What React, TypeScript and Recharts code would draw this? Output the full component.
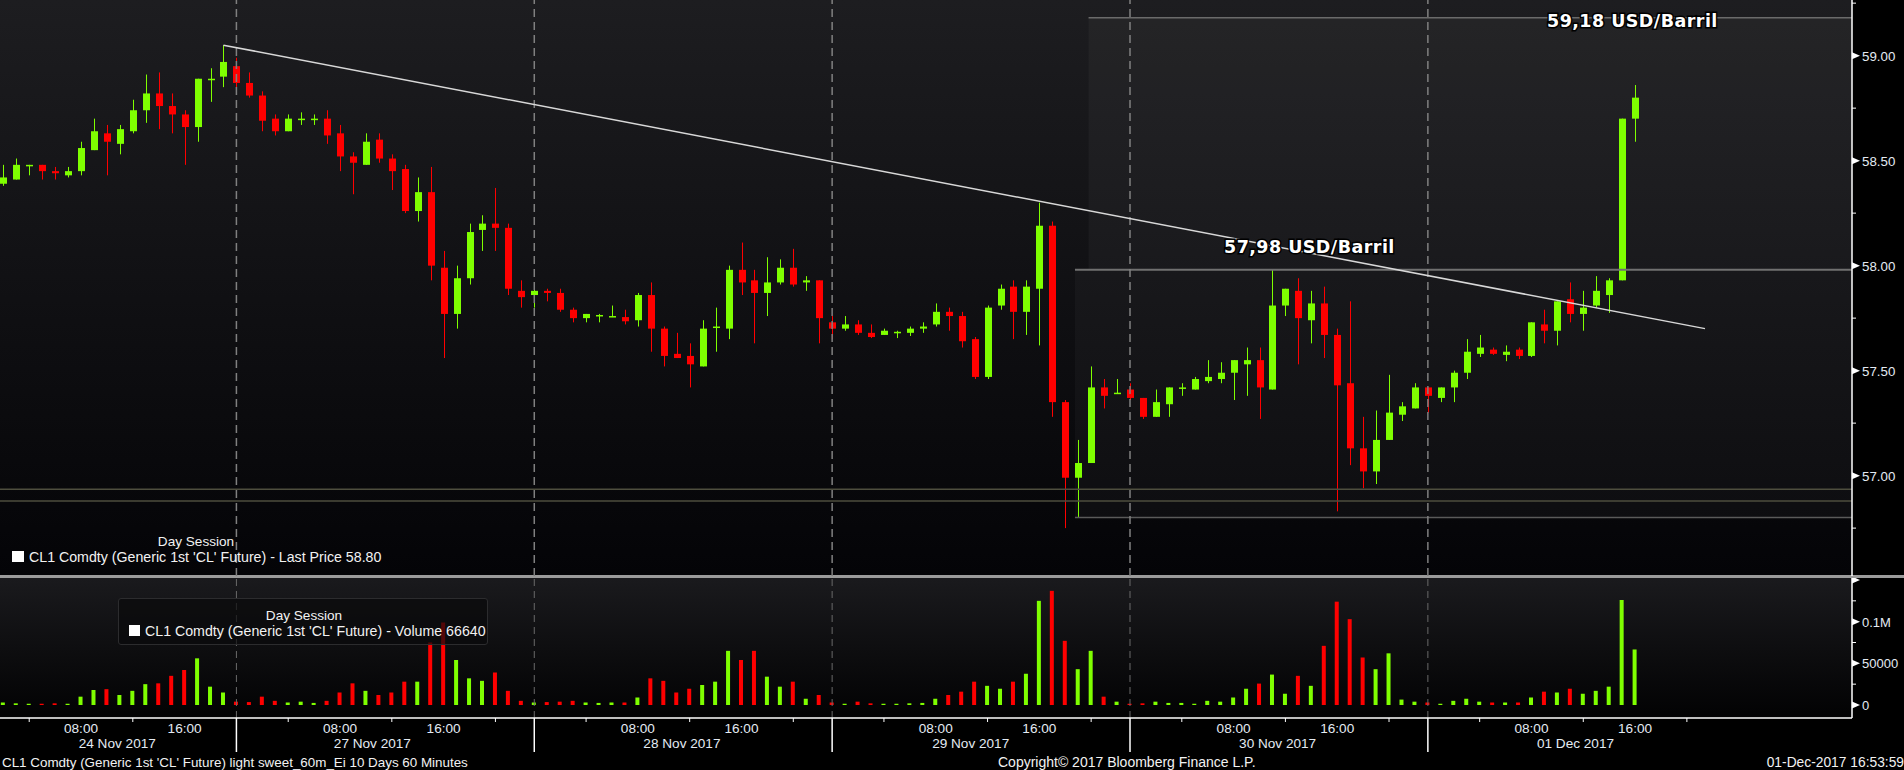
import React from 'react';
import { ComposedChart, Bar, XAxis, YAxis, ReferenceLine, ReferenceArea } from 'recharts';

// CL1 hourly candles, 24 Nov - 01 Dec 2017 (bar index = hour slot)
const opens = [
  58.39, 58.41, 58.48, 58.48, 58.45, 58.43, 58.45, 58.55, 58.63, 58.58,
  58.64, 58.74, 58.82, 58.76, 58.72, 58.66, 58.89, 58.9, 58.95, 58.87,
  58.81, 58.7, 58.64, 58.7, 58.7, 58.7, 58.63, 58.52, 58.48, 58.6,
  58.51, 58.46, 58.26, 58.35, 57.99, 57.77, 57.94, 58.17, 58.2, 58.18,
  57.88, 57.86, 57.88, 57.87, 57.79, 57.75, 57.76, 57.76, 57.755, 57.74,
  57.86, 57.7, 57.58, 57.57, 57.52, 57.71, 57.7, 57.98, 57.93, 57.87,
  57.92, 57.99, 57.92, 57.93, 57.73, 57.7, 57.72, 57.68, 57.67, 57.68,
  57.68, 57.7, 57.72, 57.78, 57.76, 57.65, 57.47, 57.81, 57.9, 57.78,
  57.89, 58.19, 57.35, 56.99, 57.06, 57.42, 57.39, 57.41, 57.37, 57.28,
  57.34, 57.42, 57.41, 57.45, 57.46, 57.49, 57.53, 57.55, 57.41, 57.81,
  57.88, 57.74, 57.82, 57.67, 57.44, 57.13, 57.02, 57.17, 57.29, 57.32,
  57.42, 57.37, 57.42, 57.49, 57.58, 57.6, 57.575, 57.6, 57.57, 57.72,
  57.69, 57.84, 57.77, 57.81, 57.86, 57.93, 58.7,
];
const highs = [
  58.48, 58.51, 58.48, 58.48, 58.47, 58.47, 58.59, 58.7, 58.67, 58.67,
  58.79, 58.91, 58.92, 58.82, 58.74, 58.89, 58.94, 59.05, 58.99, 58.92,
  58.83, 58.72, 58.72, 58.73, 58.72, 58.74, 58.67, 58.54, 58.63, 58.63,
  58.53, 58.48, 58.42, 58.47, 58.07, 58.0, 58.2, 58.24, 58.37, 58.2,
  57.93, 57.9, 57.89, 57.89, 57.8, 57.77, 57.77, 57.81, 57.79, 57.87,
  57.92, 57.71, 57.68, 57.63, 57.74, 57.8, 58.0, 58.11, 57.98, 58.04,
  58.03, 58.08, 57.95, 57.93, 57.76, 57.76, 57.74, 57.72, 57.7, 57.69,
  57.71, 57.73, 57.82, 57.8, 57.78, 57.66, 57.81, 57.91, 57.93, 57.93,
  58.3, 58.21, 57.36, 57.17, 57.52, 57.46, 57.46, 57.44, 57.37, 57.41,
  57.42, 57.44, 57.47, 57.55, 57.54, 57.55, 57.61, 57.61, 57.98, 57.89,
  57.94, 57.88, 57.9, 57.7, 57.83, 57.28, 57.31, 57.48, 57.35, 57.44,
  57.42, 57.42, 57.5, 57.65, 57.67, 57.61, 57.62, 57.61, 57.73, 57.79,
  57.83, 57.92, 57.88, 57.95, 57.94, 58.7, 58.86,
];
const lows = [
  58.38, 58.41, 58.43, 58.41, 58.41, 58.42, 58.43, 58.55, 58.43, 58.53,
  58.63, 58.68, 58.65, 58.63, 58.48, 58.59, 58.78, 58.85, 58.84, 58.8,
  58.64, 58.62, 58.64, 58.67, 58.67, 58.58, 58.45, 58.34, 58.48, 58.49,
  58.36, 58.25, 58.21, 57.93, 57.56, 57.7, 57.91, 58.07, 58.07, 57.86,
  57.8, 57.8, 57.83, 57.78, 57.73, 57.73, 57.73, 57.755, 57.72, 57.71,
  57.59, 57.52, 57.56, 57.42, 57.52, 57.59, 57.65, 57.86, 57.63, 57.76,
  57.91, 57.9, 57.88, 57.63, 57.65, 57.69, 57.67, 57.655, 57.67, 57.655,
  57.665, 57.68, 57.71, 57.69, 57.61, 57.46, 57.46, 57.79, 57.65, 57.67,
  57.62, 57.28, 56.75, 56.8, 57.06, 57.32, 57.39, 57.36, 57.27, 57.28,
  57.28, 57.38, 57.41, 57.44, 57.44, 57.36, 57.38, 57.27, 57.41, 57.76,
  57.53, 57.63, 57.56, 56.83, 57.05, 56.94, 56.96, 57.17, 57.26, 57.32,
  57.3, 57.35, 57.35, 57.46, 57.565, 57.575, 57.545, 57.555, 57.565, 57.63,
  57.62, 57.73, 57.69, 57.8, 57.775, 57.93, 58.59,
];
const closes = [
  58.42, 58.48, 58.48, 58.45, 58.44, 58.45, 58.56, 58.64, 58.59, 58.65,
  58.74, 58.82, 58.76, 58.72, 58.66, 58.89, 58.89, 58.97, 58.87, 58.81,
  58.69, 58.64, 58.7, 58.7, 58.7, 58.62, 58.52, 58.49, 58.59, 58.51,
  58.45, 58.26, 58.35, 58.0, 57.77, 57.94, 58.16, 58.2, 58.18, 57.89,
  57.85, 57.88, 57.87, 57.79, 57.75, 57.77, 57.765, 57.76, 57.735, 57.86,
  57.7, 57.57, 57.56, 57.53, 57.7, 57.71, 57.98, 57.92, 57.87, 57.92,
  57.99, 57.91, 57.93, 57.75, 57.7, 57.72, 57.68, 57.66, 57.69, 57.685,
  57.7, 57.71, 57.78, 57.76, 57.64, 57.47, 57.8, 57.89, 57.78, 57.9,
  58.19, 57.35, 56.99, 57.06, 57.42, 57.38, 57.395, 57.37, 57.28, 57.35,
  57.42, 57.42, 57.46, 57.47, 57.49, 57.55, 57.55, 57.42, 57.81, 57.89,
  57.75, 57.82, 57.67, 57.43, 57.13, 57.02, 57.17, 57.3, 57.33, 57.42,
  57.38, 57.42, 57.49, 57.59, 57.61, 57.58, 57.59, 57.57, 57.73, 57.69,
  57.83, 57.77, 57.8, 57.88, 57.93, 58.7, 58.8,
];
const volumes = [
  3000, 2000, 1500, 1500, 2000, 1500, 10000, 18000, 19000, 12000,
  17000, 25000, 26000, 35000, 42000, 56000, 22000, 15000, 4000, 3500,
  10000, 5000, 3000, 4000, 2500, 5000, 15000, 26000, 17000, 12000,
  15000, 28000, 28000, 75000, 99000, 54000, 32000, 29000, 39000, 17000,
  5000, 3000, 3500, 4000, 5000, 3000, 2500, 3000, 3000, 9000,
  32000, 29000, 15000, 19500, 24000, 28000, 65000, 54000, 65000, 34000,
  22000, 28000, 7500, 12000, 3000, 1500, 4000, 2000, 1500, 1500,
  2000, 2500, 7500, 12000, 16000, 28000, 23000, 19500, 28000, 37500,
  125000, 137000, 77000, 43000, 65000, 10000, 4000, 1500, 2000, 4000,
  2500, 2500, 1500, 5000, 4000, 9000, 19500, 25700, 36500, 13500,
  35000, 23000, 71000, 124000, 103000, 57000, 43000, 62000, 6500, 4000,
  3000, 1500, 5000, 7500, 4000, 3000, 3000, 3000, 9000, 16000,
  15000, 19500, 13500, 17000, 22000, 126000, 66640,
];

// time axis: bar index of 00:00 for each day, day labels
const dayStarts = [-2, 18, 41, 64, 87, 110];
const dayNames = ['24 Nov 2017', '27 Nov 2017', '28 Nov 2017', '29 Nov 2017', '30 Nov 2017', '01 Dec 2017'];
const dayNamePos = [8.8, 28.5, 52.4, 74.7, 98.4, 121.4];
const hourOffsets = [4, 8, 12, 16, 20];
const hourNames = ['04:00', '08:00', '12:00', '16:00', '20:00'];
const labelledHours = ['08:00', '16:00'];

const priceTicks = [56.75, 57, 57.25, 57.5, 57.75, 58, 58.25, 58.5, 58.75, 59, 59.25];
const volumeTicks = [0, 25000, 50000, 75000, 100000, 125000, 150000];
const volumeLabels: Record<number, string> = { 0: '0', 50000: '50000', 100000: '0.1M' };

// drawn annotations
const trendStart = { i: 17, p: 59.05 };
const trendEnd = { i: 131.4, p: 57.7 };
const upperLevel = 59.18;
const midLevel = 57.98;
const lowLevel = 56.8;
const guideLevels = [56.935, 56.879];
const upperLabel = '59,18 USD/Barril';
const midLabel = '57,98 USD/Barril';

const GREEN = '#7fff00';
const RED = '#ff0000';
const X_DOMAIN: [number, number] = [-0.255, 142.75];
const FONT = "'Liberation Sans', Arial, sans-serif";
const AXIS_TEXT = '#e4ebf3';
const TEXT = '#f2f2f2';

const rows = opens.map((o, i) => ({
  i,
  o,
  h: highs[i],
  l: lows[i],
  c: closes[i],
  v: volumes[i],
}));

const xTicks: { v: number; kind: string; label?: string }[] = [];
dayStarts.forEach((ds, d) => {
  if (ds >= 0) xTicks.push({ v: ds, kind: 'day' });
  hourOffsets.forEach((off, k) => {
    const v = ds + off;
    if (dayStarts.includes(v) || v > 132) return;
    const name = hourNames[k];
    xTicks.push({ v, kind: labelledHours.includes(name) ? 'hour' : 'minor', label: name });
  });
  xTicks.push({ v: dayNamePos[d], kind: 'date', label: dayNames[d] });
});
const xTickMap = new Map(xTicks.map((t) => [t.v, t]));

function Candle(props: any) {
  const { x, y, width, height, payload } = props;
  const { o, h, l, c } = payload;
  const color = c >= o ? GREEN : RED;
  const top = Math.min(y, y + height);
  const span = Math.abs(height);
  const yOf = (p: number) => (h === l ? top : top + ((h - p) / (h - l)) * span);
  const cx = Math.round(x + width / 2) + 0.5;
  const bt = yOf(Math.max(o, c));
  const bb = yOf(Math.min(o, c));
  return (
    <g>
      <line x1={cx} x2={cx} y1={top} y2={top + span} stroke={color} strokeWidth={1} />
      <rect x={cx - 3.5} y={bt} width={7} height={Math.max(bb - bt, 1.5)} fill={color} />
    </g>
  );
}

function VolumeBar(props: any) {
  const { x, y, width, height, payload } = props;
  const top = Math.min(y, y + height);
  return (
    <rect x={x} y={top} width={width} height={Math.abs(height)} fill={payload.c >= payload.o ? GREEN : RED} />
  );
}

function PriceTick(props: any) {
  const { x, y, payload } = props;
  const v = payload.value;
  const major = Math.abs(v * 2 - Math.round(v * 2)) < 1e-6;
  if (!major) return <line x1={x} x2={x + 4} y1={y} y2={y} stroke="#fff" />;
  return (
    <g>
      <polygon points={`${x},${y - 3.5} ${x + 8},${y} ${x},${y + 3.5}`} fill="#fff" />
      <text x={x + 10} y={y + 5} fill={AXIS_TEXT} fontSize={13.3} fontFamily={FONT}>
        {v.toFixed(2)}
      </text>
    </g>
  );
}

function VolumeTick(props: any) {
  const { x, y, payload } = props;
  const v = payload.value;
  const major = v % 50000 === 0;
  if (!major) return <line x1={x} x2={x + 4} y1={y} y2={y} stroke="#fff" />;
  return (
    <g>
      <polygon points={`${x},${y - 3.5} ${x + 8},${y} ${x},${y + 3.5}`} fill="#fff" />
      <text x={x + 10} y={y + 5} fill={AXIS_TEXT} fontSize={13} fontFamily={FONT}>
        {volumeLabels[v] ?? ''}
      </text>
    </g>
  );
}

function TimeTick(props: any) {
  const { x, y, payload } = props;
  const t = xTickMap.get(payload.value);
  if (!t) return null;
  if (t.kind === 'day') return <line x1={x} x2={x} y1={y} y2={y + 34} stroke="#fff" strokeWidth={1.5} />;
  if (t.kind === 'minor') return <line x1={x} x2={x} y1={y} y2={y + 4} stroke="#fff" />;
  const dy = t.kind === 'hour' ? 15 : 30;
  return (
    <text x={x} y={y + dy} textAnchor="middle" fill={AXIS_TEXT} fontSize={13.6} fontFamily={FONT}>
      {t.label}
    </text>
  );
}

const abs = (style: React.CSSProperties): React.CSSProperties => ({ position: 'absolute', ...style });

const boldLabel: React.CSSProperties = {
  position: 'absolute',
  fontFamily: "'DejaVu Sans', sans-serif",
  fontWeight: 700,
  fontSize: 17.5,
  letterSpacing: 0.45,
  color: '#fff',
  WebkitTextStroke: '3px #000',
  paintOrder: 'stroke fill',
  whiteSpace: 'nowrap',
  lineHeight: '20px',
};

export default function App() {
  const boundaries = dayStarts.filter((d) => d >= 0);
  return (
    <div style={abs({ left: 0, top: 0, width: 1904, height: 770, background: '#000', overflow: 'hidden', fontFamily: FONT })}>
      <div style={abs({ left: 0, top: 0, width: 1852, height: 575, background: 'linear-gradient(#1d1d20, #040407)' })} />
      <div style={abs({ left: 0, top: 578, width: 1852, height: 140, background: 'linear-gradient(#1a1a1d, #020203)' })} />
      <div style={abs({ left: 0, top: 575, width: 1904, height: 3, background: '#9b9b9b' })} />

      <div style={abs({ left: 0, top: 0 })}>
        <ComposedChart width={1904} height={576} data={rows} margin={{ top: 0, right: 0, bottom: 0, left: 0 }}>
          <XAxis type="number" dataKey="i" domain={X_DOMAIN} allowDataOverflow hide />
          <YAxis
            orientation="right"
            width={52}
            domain={[56.522, 59.265]}
            allowDataOverflow
            ticks={priceTicks}
            interval={0}
            tickLine={false}
            tickSize={0}
            tickMargin={0}
            axisLine={{ stroke: '#fff', strokeWidth: 1.5 }}
            tick={<PriceTick />}
          />
          <ReferenceArea x1={83.8} x2={X_DOMAIN[1]} y1={midLevel} y2={upperLevel} fill="#fff" fillOpacity={0.035} stroke="none" />
          <ReferenceArea x1={82.75} x2={X_DOMAIN[1]} y1={lowLevel} y2={midLevel} fill="#fff" fillOpacity={0.03} stroke="none" />
          {guideLevels.map((g) => (
            <ReferenceLine key={g} y={g} stroke="#4e4e3e" strokeWidth={1.5} />
          ))}
          <ReferenceLine segment={[{ x: 83.8, y: upperLevel }, { x: X_DOMAIN[1], y: upperLevel }]} stroke="#6a6a6a" strokeWidth={1.5} />
          <ReferenceLine segment={[{ x: 82.75, y: midLevel }, { x: X_DOMAIN[1], y: midLevel }]} stroke="#707070" strokeWidth={2} />
          <ReferenceLine segment={[{ x: 82.75, y: lowLevel }, { x: X_DOMAIN[1], y: lowLevel }]} stroke="#5a5a5a" strokeWidth={1.5} />
          {boundaries.map((b) => (
            <ReferenceLine key={b} x={b} stroke="#808080" strokeWidth={1.5} strokeDasharray="8 5" />
          ))}
          <Bar dataKey={(d: any) => [d.l, d.h]} barSize={7} shape={<Candle />} isAnimationActive={false} />
          <ReferenceLine
            segment={[{ x: trendStart.i, y: trendStart.p }, { x: trendEnd.i, y: trendEnd.p }]}
            stroke="#d8d8d8"
            strokeWidth={1.5}
          />
        </ComposedChart>
      </div>

      <div style={abs({ left: 0, top: 578 })}>
        <ComposedChart width={1904} height={182} data={rows} margin={{ top: 0, right: 0, bottom: 0, left: 0 }}>
          <XAxis
            type="number"
            dataKey="i"
            domain={X_DOMAIN}
            allowDataOverflow
            ticks={xTicks.map((t) => t.v)}
            interval={0}
            height={42}
            tickLine={false}
            tickSize={0}
            tickMargin={0}
            axisLine={{ stroke: '#fff', strokeWidth: 1.5 }}
            tick={<TimeTick />}
          />
          <YAxis
            orientation="right"
            width={52}
            domain={[-15600, 152400]}
            allowDataOverflow
            ticks={volumeTicks}
            interval={0}
            tickLine={false}
            tickSize={0}
            tickMargin={0}
            axisLine={{ stroke: '#fff', strokeWidth: 1.5 }}
            tick={<VolumeTick />}
          />
          {boundaries.map((b) => (
            <ReferenceLine key={b} x={b} stroke="#6a6a6a" strokeWidth={1} strokeDasharray="7 5" />
          ))}
          <Bar dataKey="v" barSize={4} shape={<VolumeBar />} isAnimationActive={false} />
        </ComposedChart>
      </div>

      {/* price legend */}
      <div style={abs({ left: 150, top: 533, width: 92, textAlign: 'center', color: TEXT, fontSize: 13.6, lineHeight: '18px', whiteSpace: 'nowrap' })}>
        Day Session
      </div>
      <div style={abs({ left: 12, top: 551, width: 12, height: 11, background: '#fff' })} />
      <div style={abs({ left: 29, top: 548, color: TEXT, fontSize: 14.2, lineHeight: '18px', whiteSpace: 'nowrap' })}>
        CL1 Comdty (Generic 1st 'CL' Future) - Last Price 58.80
      </div>

      {/* volume legend */}
      <div
        style={abs({
          left: 118,
          top: 598,
          width: 370,
          height: 47,
          background: 'rgba(10,10,12,0.7)',
          border: '1px solid #2c2c2e',
          borderRadius: 3,
          boxSizing: 'border-box',
        })}
      >
        <div style={abs({ left: 0, top: 8, width: 370, textAlign: 'center', color: TEXT, fontSize: 13.6, lineHeight: '18px' })}>
          Day Session
        </div>
        <div style={abs({ left: 10, top: 26, width: 11, height: 11, background: '#fff' })} />
        <div style={abs({ left: 26, top: 23, color: TEXT, fontSize: 14.2, lineHeight: '18px', whiteSpace: 'nowrap' })}>
          CL1 Comdty (Generic 1st 'CL' Future) - Volume 66640
        </div>
      </div>

      {/* level annotations */}
      <div style={{ ...boldLabel, left: 1547, top: 11 }}>{upperLabel}</div>
      <div style={{ ...boldLabel, left: 1224, top: 237 }}>{midLabel}</div>

      {/* footer */}
      <div style={abs({ left: 2, top: 754, color: TEXT, fontSize: 13.4, lineHeight: '17px', whiteSpace: 'nowrap' })}>
        CL1 Comdty (Generic 1st 'CL' Future) light sweet_60m_Ei 10 Days 60 Minutes
      </div>
      <div style={abs({ left: 998, top: 754, color: TEXT, fontSize: 14, lineHeight: '17px', whiteSpace: 'nowrap' })}>
        Copyright© 2017 Bloomberg Finance L.P.
      </div>
      <div style={abs({ right: 0, top: 754, color: TEXT, fontSize: 13.8, lineHeight: '17px', whiteSpace: 'nowrap' })}>
        01-Dec-2017 16:53:59
      </div>
    </div>
  );
}
